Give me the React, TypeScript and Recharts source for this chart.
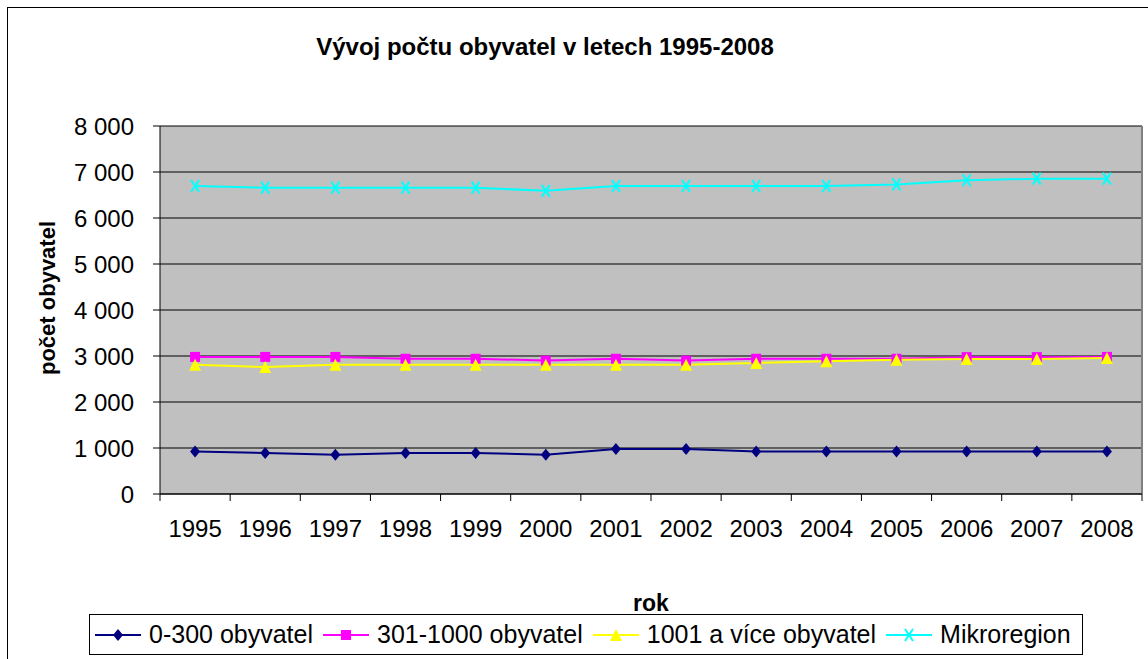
import { CartesianGrid, Label, Legend, Line, LineChart, XAxis, YAxis } from 'recharts';

const years = ['1995', '1996', '1997', '1998', '1999', '2000', '2001', '2002', '2003', '2004', '2005', '2006', '2007', '2008'];
const smallVillages = [926, 891, 854, 891, 891, 854, 978, 978, 926, 926, 926, 926, 926, 926];
const mediumVillages = [2980, 2980, 2980, 2940, 2940, 2900, 2940, 2900, 2940, 2940, 2940, 2975, 2975, 2980];
const largeVillages = [2810, 2760, 2810, 2810, 2810, 2810, 2810, 2810, 2850, 2885, 2920, 2935, 2935, 2955];
const microregion = [6695, 6660, 6660, 6660, 6660, 6590, 6695, 6695, 6695, 6695, 6730, 6820, 6855, 6855];
const yTicks = [0, 1000, 2000, 3000, 4000, 5000, 6000, 7000, 8000];

const FONT = '"Liberation Sans", Arial, sans-serif';
const TICK_GAP = 26;

const data = years.map((year, i) => ({
  year,
  small: smallVillages[i],
  medium: mediumVillages[i],
  large: largeVillages[i],
  micro: microregion[i],
}));

type Shape = 'diamond' | 'square' | 'triangle' | 'cross';

const series: { key: string; name: string; color: string; shape: Shape }[] = [
  { key: 'small', name: '0-300 obyvatel', color: '#000080', shape: 'diamond' },
  { key: 'medium', name: '301-1000 obyvatel', color: '#FF00FF', shape: 'square' },
  { key: 'large', name: '1001 a více obyvatel', color: '#FFFF00', shape: 'triangle' },
  { key: 'micro', name: 'Mikroregion', color: '#00FFFF', shape: 'cross' },
];

function Marker({ cx, cy, shape, color }: { cx: number; cy: number; shape: Shape; color: string }) {
  if (cx == null || cy == null) return null;
  if (shape === 'diamond') {
    return <polygon points={`${cx},${cy - 6} ${cx + 5},${cy} ${cx},${cy + 6} ${cx - 5},${cy}`} fill={color} />;
  }
  if (shape === 'square') {
    return <rect x={cx - 5} y={cy - 5} width={10} height={10} fill={color} />;
  }
  if (shape === 'triangle') {
    return <polygon points={`${cx},${cy - 6} ${cx + 6},${cy + 6} ${cx - 6},${cy + 6}`} fill={color} />;
  }
  return (
    <g stroke={color} strokeWidth={2}>
      <line x1={cx - 4} y1={cy - 6} x2={cx + 4} y2={cy + 6} />
      <line x1={cx + 4} y1={cy - 6} x2={cx - 4} y2={cy + 6} />
    </g>
  );
}

// year label plus the tick mark on the category boundary (excel style)
function YearTick(props: any) {
  const { x, y, payload, index, width } = props;
  const half = payload?.offset > 0 ? payload.offset : width / years.length / 2;
  const axisY = y - TICK_GAP;
  return (
    <g>
      <line x1={x - half} y1={axisY} x2={x - half} y2={axisY + 7} stroke="#000" />
      {index === years.length - 1 && <line x1={x + half} y1={axisY} x2={x + half} y2={axisY + 7} stroke="#000" />}
      <text x={x} y={y} dy="0.71em" textAnchor="middle" fontFamily={FONT} fontSize={24} fill="#000">
        {payload.value}
      </text>
    </g>
  );
}

function formatThousands(v: number) {
  if (v === 0) return '0';
  return `${Math.floor(v / 1000)} ${String(v % 1000).padStart(3, '0')}`;
}

function LegendBox() {
  return (
    <div
      style={{
        boxSizing: 'border-box',
        width: '100%',
        height: '100%',
        border: '1px solid #000',
        background: '#fff',
        display: 'flex',
        alignItems: 'center',
        paddingLeft: 5,
        gap: 10,
        fontFamily: FONT,
        fontSize: 25,
        color: '#000',
        whiteSpace: 'nowrap',
      }}
    >
      {series.map((s) => (
        <div key={s.key} style={{ display: 'flex', alignItems: 'center', gap: 8 }}>
          <svg width={46} height={20}>
            <line x1={0} y1={10} x2={46} y2={10} stroke={s.color} strokeWidth={2} />
            <Marker cx={23} cy={10} shape={s.shape} color={s.color} />
          </svg>
          <span>{s.name}</span>
        </div>
      ))}
    </div>
  );
}

export default function App() {
  return (
    <div style={{ position: 'absolute', left: 0, top: 0, width: 1148, height: 659, background: '#fff', overflow: 'hidden' }}>
      <div style={{ position: 'absolute', left: 7, top: 7, width: 1160, height: 670, border: '1px solid #000' }} />
      <div
        style={{
          position: 'absolute',
          left: 0,
          width: 1090,
          top: 32,
          textAlign: 'center',
          fontFamily: FONT,
          fontWeight: 'bold',
          fontSize: 24,
          lineHeight: '30px',
        }}
      >
        Vývoj počtu obyvatel v letech 1995-2008
      </div>
      <LineChart
        width={1148}
        height={659}
        data={data}
        margin={{ top: 126, right: 6, bottom: 120, left: 80 }}
        style={{ position: 'absolute', left: 0, top: 0 }}
      >
        <CartesianGrid fill="#C0C0C0" stroke="#000" vertical={false} />
        <CartesianGrid
          horizontal={false}
          stroke="#808080"
          strokeWidth={2}
          verticalCoordinatesGenerator={({ offset }: any) => [offset.left + offset.width]}
        />
        <XAxis
          dataKey="year"
          scale="band"
          interval={0}
          stroke="#000"
          tickLine={false}
          tickSize={0}
          tickMargin={TICK_GAP}
          height={45}
          tick={<YearTick />}
        >
          <Label
            content={({ viewBox }: any) => (
              <text
                x={viewBox.x + viewBox.width / 2}
                y={603}
                textAnchor="middle"
                dominantBaseline="central"
                fontFamily={FONT}
                fontWeight="bold"
                fontSize={23}
                fill="#000"
              >
                rok
              </text>
            )}
          />
        </XAxis>
        <YAxis
          width={80}
          domain={[0, 8000]}
          ticks={yTicks}
          tickFormatter={formatThousands}
          tickSize={7}
          tickMargin={19}
          stroke="#000"
          tick={{ fill: '#000', fontSize: 24, fontFamily: FONT }}
        >
          <Label
            content={({ viewBox }: any) => {
              const cx = 47;
              const cy = viewBox.y + viewBox.height / 2 - 12;
              return (
                <text
                  x={cx}
                  y={cy}
                  transform={`rotate(-90, ${cx}, ${cy})`}
                  textAnchor="middle"
                  dominantBaseline="central"
                  fontFamily={FONT}
                  fontWeight="bold"
                  fontSize={22}
                  fill="#000"
                >
                  počet obyvatel
                </text>
              );
            }}
          />
        </YAxis>
        {series.map((s) => (
          <Line
            key={s.key}
            dataKey={s.key}
            name={s.name}
            stroke={s.color}
            strokeWidth={2}
            isAnimationActive={false}
            dot={(p: any) => <Marker key={`${s.key}-${p.index}`} cx={p.cx} cy={p.cy} shape={s.shape} color={s.color} />}
            activeDot={false}
          />
        ))}
        <Legend
          layout="horizontal"
          verticalAlign="middle"
          align="center"
          content={() => <LegendBox />}
          wrapperStyle={{ top: 614, left: 89, width: 994, height: 41 }}
        />
      </LineChart>
    </div>
  );
}
